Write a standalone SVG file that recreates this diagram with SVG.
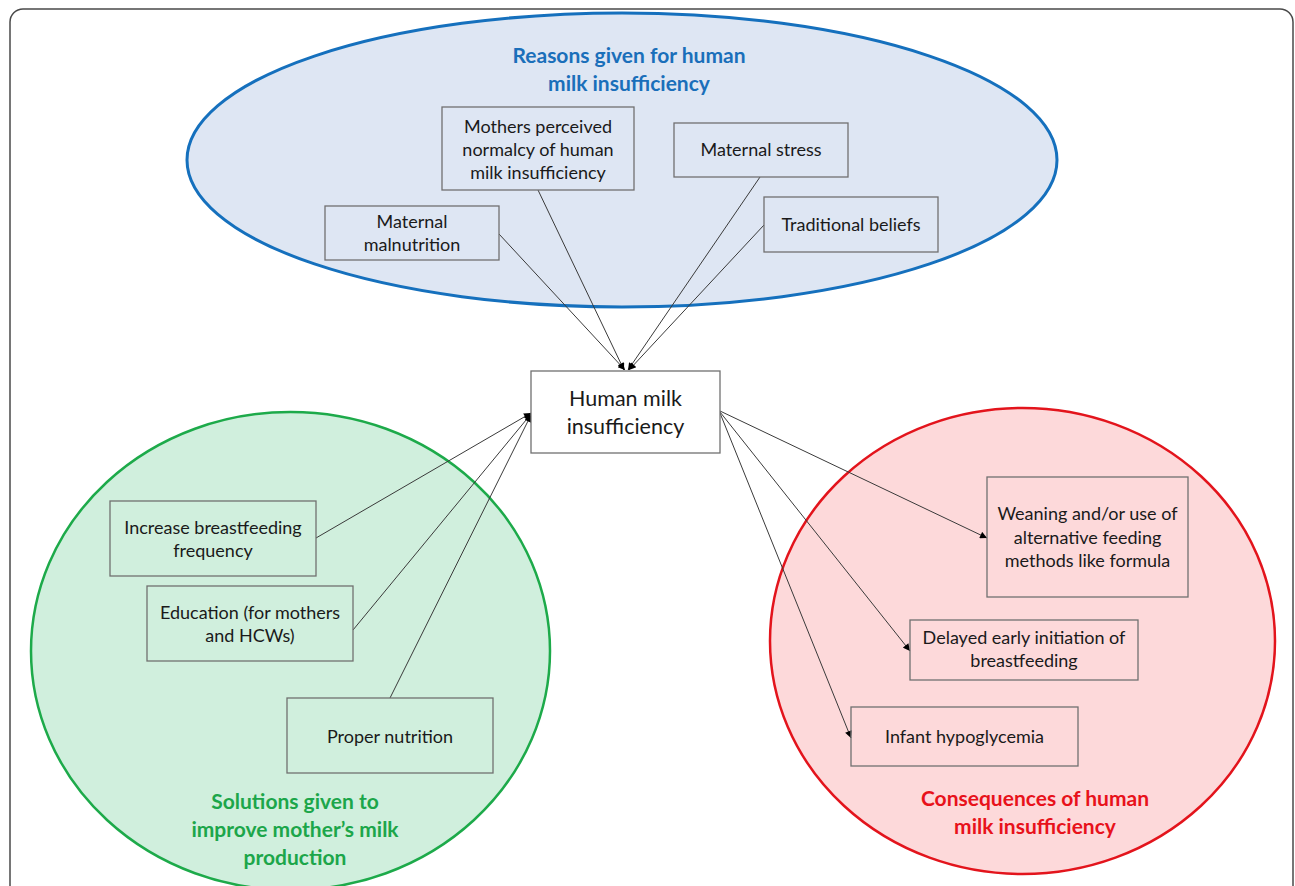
<svg xmlns="http://www.w3.org/2000/svg" width="1295" height="886" viewBox="0 0 1295 886">
<defs>
<style>
.box{stroke:#707070;stroke-width:1.3;fill:none}
.cbox{stroke:#707070;stroke-width:1.3;fill:#ffffff}
.t{font-family:Lato,"Open Sans","Liberation Sans",sans-serif;font-size:18px;fill:#1a1a1a;text-anchor:middle}
.tc{font-family:Lato,"Open Sans","Liberation Sans",sans-serif;font-size:21.5px;fill:#1a1a1a;text-anchor:middle}
.h{font-family:Lato,"Open Sans","Liberation Sans",sans-serif;font-size:21px;font-weight:bold;text-anchor:middle}
.c{stroke:#3a3a3a;stroke-width:1;fill:none;marker-end:url(#ah)}
</style>
<marker id="ah" viewBox="0 0 10 10" refX="10" refY="5" markerWidth="9" markerHeight="7" markerUnits="userSpaceOnUse" orient="auto">
<path d="M0,0 L10,5 L0,10 z" fill="#000"/>
</marker>
</defs>
<rect x="0" y="0" width="1295" height="886" fill="#ffffff"/>
<rect x="10" y="9" width="1283" height="900" rx="13" ry="13" fill="none" stroke="#4a4a4a" stroke-width="1.5"/>

<g id="reasons-group">
<ellipse cx="622" cy="160" rx="435" ry="147" fill="#dee6f3" stroke="#1570bd" stroke-width="3"/>
<text class="h" fill="#1a6fba" x="629" y="63">Reasons given for human</text>
<text class="h" fill="#1a6fba" x="629" y="91">milk insufficiency</text>
</g>
<g id="solutions-group">
<ellipse cx="290.5" cy="651" rx="259.5" ry="239" fill="#d0efdd" stroke="#1daa4a" stroke-width="2.5"/>
<text class="h" fill="#1ca64a" x="295" y="809">Solutions given to</text>
<text class="h" fill="#1ca64a" x="295" y="837">improve mother’s milk</text>
<text class="h" fill="#1ca64a" x="295" y="865">production</text>
</g>
<g id="consequences-group">
<ellipse cx="1022.5" cy="641" rx="252.5" ry="233" fill="#fdd9da" stroke="#e3141c" stroke-width="2.5"/>
<text class="h" fill="#e8121b" x="1035" y="806">Consequences of human</text>
<text class="h" fill="#e8121b" x="1035" y="834">milk insufficiency</text>
</g>

<g id="connectors">
<line class="c" x1="499" y1="234" x2="625" y2="370"/>
<line class="c" x1="538" y1="190" x2="624" y2="370"/>
<line class="c" x1="760" y1="177" x2="628" y2="370"/>
<line class="c" x1="764" y1="225" x2="629" y2="370"/>
<line class="c" x1="316" y1="538" x2="531" y2="413"/>
<line class="c" x1="353" y1="630" x2="531" y2="414"/>
<line class="c" x1="390" y1="698" x2="531" y2="415"/>
<line class="c" x1="720" y1="411" x2="987" y2="538"/>
<line class="c" x1="720" y1="412" x2="910" y2="651"/>
<line class="c" x1="720" y1="413" x2="851" y2="738"/>
</g>

<g id="center">
<rect class="cbox" x="531" y="371" width="189" height="82"/>
<text class="tc" x="625.5" y="406">Human milk</text>
<text class="tc" x="625.5" y="434">insufficiency</text>
</g>

<g id="mothers-perceived">
<rect class="box" x="442" y="107" width="192" height="83"/>
<text class="t" x="538" y="133">Mothers perceived</text>
<text class="t" x="538" y="156">normalcy of human</text>
<text class="t" x="538" y="179">milk insufficiency</text>
</g>
<g id="maternal-stress">
<rect class="box" x="674" y="123" width="174" height="54"/>
<text class="t" x="761" y="156">Maternal stress</text>
</g>
<g id="maternal-malnutrition">
<rect class="box" x="325" y="206" width="174" height="54"/>
<text class="t" x="412" y="228">Maternal</text>
<text class="t" x="412" y="251">malnutrition</text>
</g>
<g id="traditional-beliefs">
<rect class="box" x="764" y="197" width="174" height="55"/>
<text class="t" x="851" y="231">Traditional beliefs</text>
</g>

<g id="increase-breastfeeding">
<rect class="box" x="110" y="501" width="206" height="75"/>
<text class="t" x="213" y="534">Increase breastfeeding</text>
<text class="t" x="213" y="557">frequency</text>
</g>
<g id="education">
<rect class="box" x="147" y="586" width="206" height="75"/>
<text class="t" x="250" y="619">Education (for mothers</text>
<text class="t" x="250" y="642">and HCWs)</text>
</g>
<g id="proper-nutrition">
<rect class="box" x="287" y="698" width="206" height="75"/>
<text class="t" x="390" y="743">Proper nutrition</text>
</g>

<g id="weaning">
<rect class="box" x="987" y="477" width="201" height="120"/>
<text class="t" x="1087.5" y="520">Weaning and/or use of</text>
<text class="t" x="1087.5" y="544">alternative feeding</text>
<text class="t" x="1087.5" y="567">methods like formula</text>
</g>
<g id="delayed-initiation">
<rect class="box" x="910" y="620" width="228" height="60"/>
<text class="t" x="1024" y="644">Delayed early initiation of</text>
<text class="t" x="1024" y="667">breastfeeding</text>
</g>
<g id="infant-hypoglycemia">
<rect class="box" x="851" y="707" width="227" height="59"/>
<text class="t" x="964.5" y="743">Infant hypoglycemia</text>
</g>
</svg>
